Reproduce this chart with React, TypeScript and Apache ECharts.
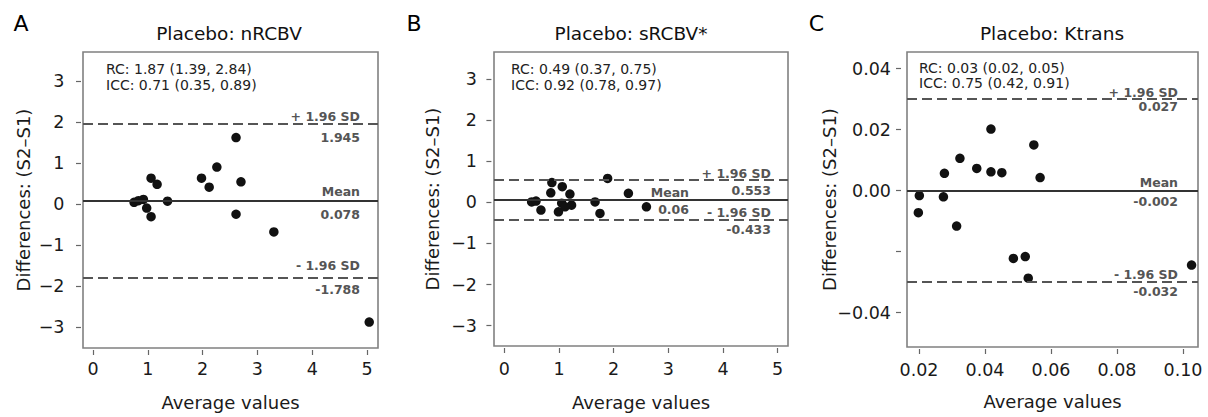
import React, { useEffect, useRef } from 'react';
import * as echarts from 'echarts';

const FONT = '"DejaVu Sans", sans-serif';

// ---- data ----
const avgA = [0.75, 0.83, 0.92, 0.98, 1.06, 1.06, 1.17, 1.36, 1.98, 2.12, 2.26, 2.61, 2.61, 2.70, 3.30, 5.04];
const diffA = [0.04, 0.08, 0.11, -0.10, -0.31, 0.63, 0.48, 0.07, 0.63, 0.41, 0.90, 1.62, -0.25, 0.54, -0.68, -2.88];

const avgB = [0.50, 0.58, 0.67, 0.87, 0.85, 1.06, 1.20, 0.99, 1.05, 1.23, 1.11, 1.66, 1.75, 1.89, 2.27, 2.60];
const diffB = [0.01, 0.03, -0.19, 0.48, 0.23, 0.38, 0.20, -0.23, -0.02, -0.07, -0.11, 0.01, -0.27, 0.58, 0.22, -0.11];

const avgC = [0.0201, 0.0198, 0.0274, 0.0277, 0.0314, 0.0324, 0.0375, 0.0418, 0.0418, 0.0451, 0.0486, 0.0522, 0.0531, 0.0548, 0.0567, 0.1026];
const diffC = [-0.0016, -0.0072, -0.0020, 0.0057, -0.0116, 0.0106, 0.0073, 0.0202, 0.0062, 0.0059, -0.0222, -0.0216, -0.0287, 0.0150, 0.0043, -0.0244];

// limits: upper (+1.96 SD), mean, lower (-1.96 SD)
const limitsA = [1.945, 0.078, -1.788];
const limitsB = [0.553, 0.06, -0.433];
const limitsC = [0.027, -0.002, -0.032];
const limitTextsA = ['1.945', '0.078', '-1.788'];
const limitTextsB = ['0.553', '0.06', '-0.433'];
const limitTextsC = ['0.027', '-0.002', '-0.032'];

const panelLetters = ['A', 'B', 'C'];
const panelTitles = ['Placebo: nRCBV', 'Placebo: sRCBV*', 'Placebo: Ktrans'];
const rcTexts = ['RC: 1.87 (1.39, 2.84)', 'RC: 0.49 (0.37, 0.75)', 'RC: 0.03 (0.02, 0.05)'];
const iccTexts = ['ICC: 0.71 (0.35, 0.89)', 'ICC: 0.92 (0.78, 0.97)', 'ICC: 0.75 (0.42, 0.91)'];

const xTicksAB = [0, 1, 2, 3, 4, 5];
const yTicksAB = [-3, -2, -1, 0, 1, 2, 3];
const xTicksC = [0.02, 0.04, 0.06, 0.08, 0.10];
const yTicksC = [-0.04, -0.02, 0, 0.02, 0.04];
const yLabelsC = [-0.04, 0, 0.02, 0.04];

const xTitle = 'Average values';
const yTitle = 'Differences: (S2\u2013S1)';

// ---- layout (styles only) ----
const grids = [
  { left: 83, top: 52, width: 295, height: 296 },
  { left: 494, top: 52, width: 294, height: 294 },
  { left: 907, top: 52, width: 291, height: 295 },
];
const ranges = [
  { xMin: -0.182, xMax: 5.2, yMin: -3.512, yMax: 3.707 },
  { xMin: -0.189, xMax: 5.19, yMin: -3.496, yMax: 3.657 },
  { xMin: 0.01636, xMax: 0.10455, yMin: -0.05125, yMax: 0.04548 },
];
const axisCfg = [
  { xOff: 2, xMargin: 10, xGap: 43, yOff: 2, yLabelRight: 64.5, yGap: 49 },
  { xOff: 2, xMargin: 12, xGap: 45, yOff: 2.6, yLabelRight: 477, yGap: 50 },
  { xOff: 2, xMargin: 12, xGap: 43, yOff: 6, yLabelRight: 891, yGap: 63 },
];
// label distances [fromRight, fromLine]
const labelDist = [
  { upT: [18, 1], upB: [18, 7], mT: [18, 3], mB: [18, 7], loT: [18, 5], loB: [18, 6] },
  { upT: [17, 0], upB: [17, 4], mT: [99, 0.5], mB: [99, 3.5], loT: [17, 0.5], loB: [17, 3.5] },
  { upT: [20, 0], upB: [20, 0.5], mT: [20, 1.5], mB: [20, 4.5], loT: [20, 1], loB: [20, 3] },
];
const letterPos = [[21, 23], [414, 23], [816.5, 23]];
const titlePos = [[229, 33], [631, 33], [1052, 33]];
const rcPos = [[106, 68.5, 85.3], [511, 68.5, 85.3], [919, 67.5, 83]];

const minus = '\u2212';
const fmtInt = (v: number) => (v < 0 ? minus + Math.abs(v) : String(v));
const fmt2 = (v: number) => (v < 0 ? minus + Math.abs(v).toFixed(2) : v.toFixed(2));

const tickLabelStyle = { fontSize: 17.5, fontFamily: FONT, color: '#1a1a1a' };
const nameStyle = { fontSize: 18, fontFamily: FONT, color: '#1a1a1a' };
const annStyle = { fontSize: 12.5, fontFamily: FONT, fontWeight: 'bold' as const, color: '#555' };

function makeX(i: number, ticks: number[], fmt: (v: number) => string) {
  const c = axisCfg[i];
  return {
    type: 'value', gridIndex: i, min: ranges[i].xMin, max: ranges[i].xMax, offset: c.xOff,
    axisLine: { show: false, onZero: false },
    splitLine: { show: false },
    axisTick: { show: true, length: 5, customValues: ticks, lineStyle: { color: '#666', width: 1.2 } },
    axisLabel: { customValues: ticks, formatter: fmt, margin: c.xMargin, ...tickLabelStyle },
    name: xTitle, nameLocation: 'middle', nameGap: c.xGap, nameMoveOverlap: false, nameTextStyle: nameStyle,
  };
}
function makeY(i: number, ticks: number[]) {
  const c = axisCfg[i];
  return {
    type: 'value', gridIndex: i, min: ranges[i].yMin, max: ranges[i].yMax, offset: c.yOff,
    axisLine: { show: false, onZero: false },
    splitLine: { show: false },
    axisTick: { show: true, length: 5, customValues: ticks, lineStyle: { color: '#666', width: 1.2 } },
    axisLabel: { show: false },
    name: yTitle, nameLocation: 'middle', nameRotate: 90, nameGap: c.yGap, nameMoveOverlap: false,
    nameTextStyle: nameStyle,
  };
}

function makeLines(i: number, limits: number[], texts: string[]) {
  const d = labelDist[i];
  const dashed = { type: [10, 5], color: '#555', width: 2.2 };
  const solid = { type: 'solid', color: '#333', width: 2 };
  const hidden = { color: 'rgba(0,0,0,0)', width: 0 };
  const lab = (pos: string, text: string, dist: number[]) => ({
    show: true, position: pos, formatter: text, distance: dist, ...annStyle,
  });
  return {
    silent: true, symbol: 'none', animation: false,
    data: [
      { yAxis: limits[0], lineStyle: dashed, label: lab('insideEndTop', '+ 1.96 SD', d.upT) },
      { yAxis: limits[0], lineStyle: hidden, label: lab('insideEndBottom', texts[0], d.upB) },
      { yAxis: limits[1], lineStyle: solid, label: lab('insideEndTop', 'Mean', d.mT) },
      { yAxis: limits[1], lineStyle: hidden, label: lab('insideEndBottom', texts[1], d.mB) },
      { yAxis: limits[2], lineStyle: dashed, label: lab('insideEndTop', '- 1.96 SD', d.loT) },
      { yAxis: limits[2], lineStyle: hidden, label: lab('insideEndBottom', texts[2], d.loB) },
    ],
  };
}

function makeSeries(i: number, xs: number[], ys: number[], limits: number[], texts: string[]) {
  return {
    type: 'scatter', xAxisIndex: i, yAxisIndex: i,
    data: xs.map((x, k) => [x, ys[k]]),
    symbol: 'circle', symbolSize: 9.5,
    itemStyle: { color: '#111', opacity: 1 },
    z: 3,
    markLine: makeLines(i, limits, texts),
  };
}

function textEl(x: number, y: number, text: string, size: number, align: string, color = '#111') {
  return {
    type: 'text', x, y, silent: true,
    style: {
      text, fontSize: size, fontFamily: FONT, fill: color,
      textAlign: align, textVerticalAlign: 'middle', align, verticalAlign: 'middle',
    },
  };
}

export default function App() {
  const ref = useRef<HTMLDivElement>(null);
  useEffect(() => {
    if (!ref.current) return;
    const chart = echarts.init(ref.current, undefined, { renderer: 'svg' });
    const graphics: any[] = [];
    for (let i = 0; i < 3; i++) {
      graphics.push(textEl(letterPos[i][0], letterPos[i][1], panelLetters[i], 22, 'center', '#000'));
      graphics.push(textEl(titlePos[i][0], titlePos[i][1], panelTitles[i], 18.5, 'center'));
      graphics.push(textEl(rcPos[i][0], rcPos[i][1], rcTexts[i], 14, 'left', '#222'));
      graphics.push(textEl(rcPos[i][0], rcPos[i][2], iccTexts[i], 14, 'left', '#222'));
    }
    const option: any = {
      animation: false,
      backgroundColor: '#fff',
      grid: grids.map((g) => ({
        ...g, show: true, borderColor: '#808080', borderWidth: 1.6, backgroundColor: 'transparent',
        containLabel: false,
      })),
      xAxis: [
        makeX(0, xTicksAB, (v: number) => String(v)),
        makeX(1, xTicksAB, (v: number) => String(v)),
        makeX(2, xTicksC, (v: number) => v.toFixed(2)),
      ],
      yAxis: [makeY(0, yTicksAB), makeY(1, yTicksAB), makeY(2, yTicksC)],
      series: [
        makeSeries(0, avgA, diffA, limitsA, limitTextsA),
        makeSeries(1, avgB, diffB, limitsB, limitTextsB),
        makeSeries(2, avgC, diffC, limitsC, limitTextsC),
      ],
      graphic: graphics,
    };
    chart.setOption(option);

    // y tick labels positioned through the axis scale
    const yLabelSets: [number[], (v: number) => string][] = [
      [yTicksAB, fmtInt],
      [yTicksAB, fmtInt],
      [yLabelsC, fmt2],
    ];
    const labelEls: any[] = [];
    yLabelSets.forEach(([vals, fmt], i) => {
      vals.forEach((v) => {
        const p = chart.convertToPixel({ xAxisIndex: i, yAxisIndex: i }, [ranges[i].xMin, v]) as number[];
        if (p && isFinite(p[1])) {
          labelEls.push(textEl(axisCfg[i].yLabelRight, p[1], fmt(v), 17.5, 'right', '#1a1a1a'));
        }
      });
    });
    chart.setOption({ graphic: [...graphics, ...labelEls] });
    return () => chart.dispose();
  }, []);
  return (
    <div
      ref={ref}
      style={{ position: 'absolute', left: 0, top: 0, width: 1208, height: 417, background: '#fff' }}
    />
  );
}
